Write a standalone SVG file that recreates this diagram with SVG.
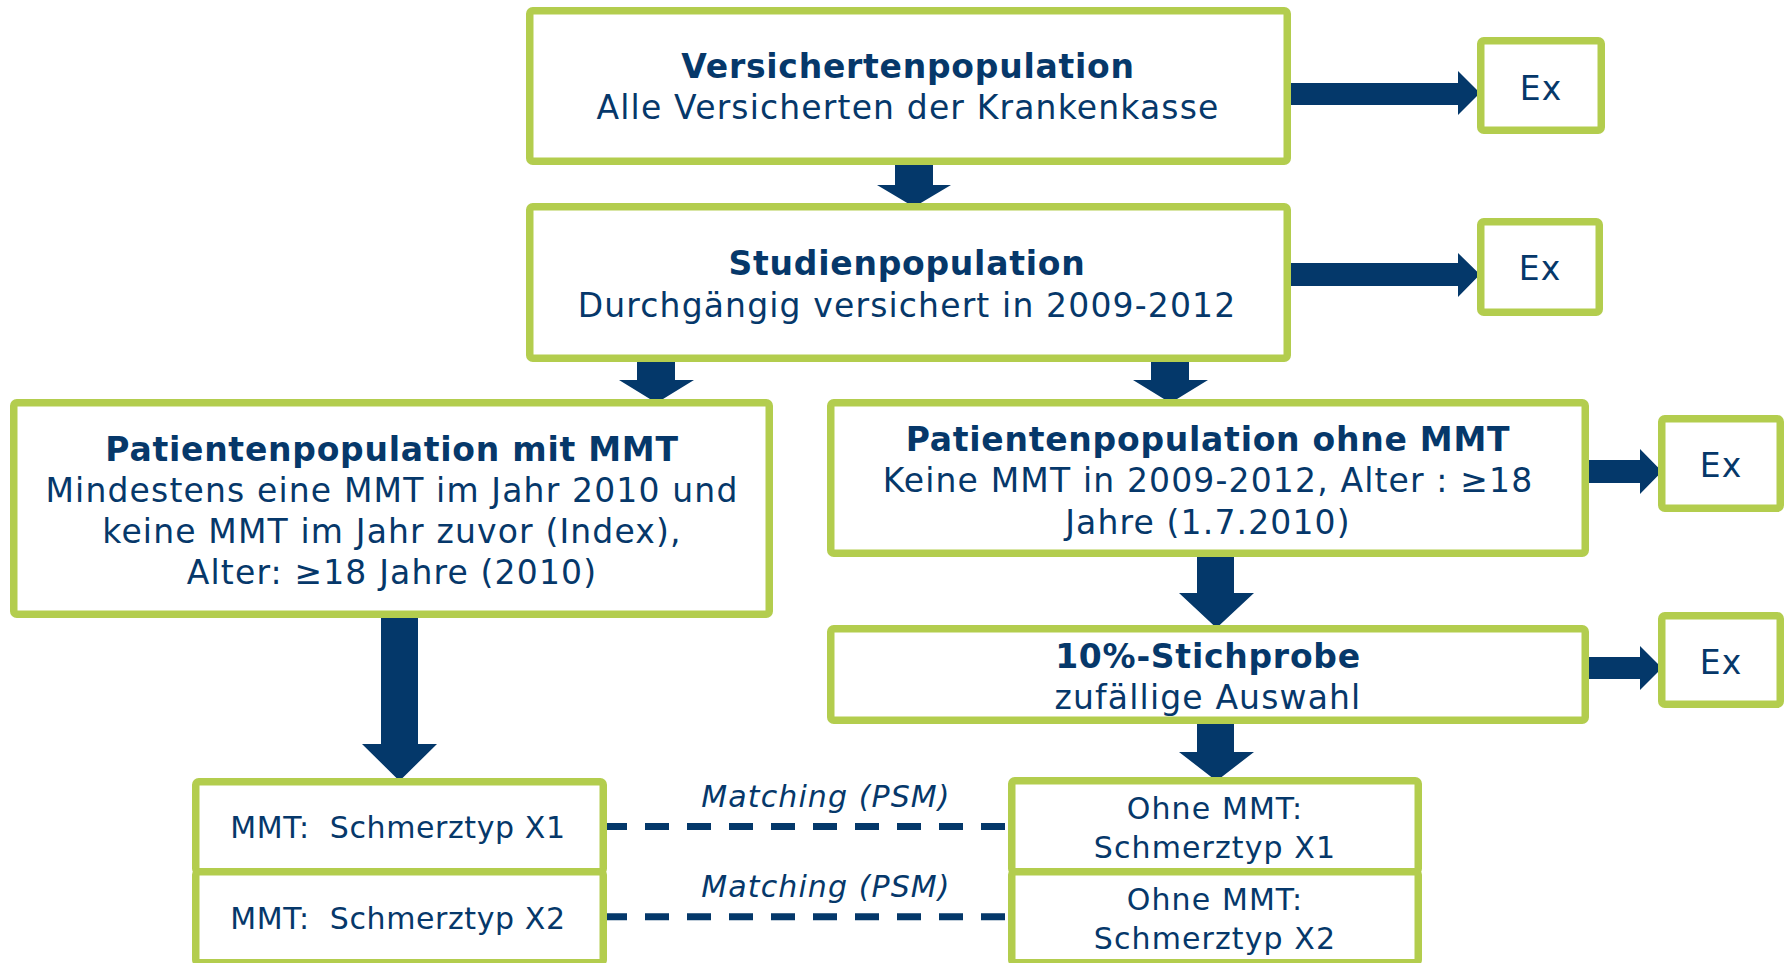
<svg xmlns="http://www.w3.org/2000/svg" width="1785" height="963" viewBox="0 0 1785 963">
<style>
.box{fill:#ffffff;stroke:#b3cd4e;stroke-width:7.5}
.t{font-family:"DejaVu Sans",Verdana,sans-serif;fill:#06386a;text-anchor:middle}
.big{font-size:33px;letter-spacing:1.15px}
.b{font-weight:bold;letter-spacing:0.75px}
.sm{font-size:30px;letter-spacing:1.1px}
.pre{white-space:pre;letter-spacing:0.6px}
.it{font-style:italic}
.arr{fill:#04386a}
.dash{stroke:#04386a;stroke-width:7;stroke-dasharray:24 18;fill:none}
</style>
<rect width="1785" height="963" fill="#ffffff"/>
<g id="connectors">
<polygon class="arr" points="1283,83 1458,83 1458,71 1480,93 1458,115 1458,105 1283,105"/>
<polygon class="arr" points="1283,263 1458,263 1458,253 1480,274.5 1458,297 1458,286 1283,286"/>
<polygon class="arr" points="1586,460 1640,460 1640,449 1662,471.5 1640,494 1640,483 1586,483"/>
<polygon class="arr" points="1586,657 1640,657 1640,646 1662,668 1640,690 1640,679 1586,679"/>
<polygon class="arr" points="895,162 933,162 933,185 951,185 914,207 877,185 895,185"/>
<polygon class="arr" points="637,358 675,358 675,380 694,380 656.5,403 619,380 637,380"/>
<polygon class="arr" points="1151,358 1189,358 1189,380 1208,380 1170.5,403 1133,380 1151,380"/>
<polygon class="arr" points="381,615 418,615 418,744 437,744 399.5,781 362,744 381,744"/>
<polygon class="arr" points="1197,555 1234,555 1234,593 1254,593 1216.5,628 1179,593 1197,593"/>
<polygon class="arr" points="1197,721 1234,721 1234,752 1254,752 1216.5,781 1179,752 1197,752"/>
<line class="dash" x1="607" y1="826.5" x2="1008" y2="826.5" stroke-dashoffset="4"/>
<line class="dash" x1="607" y1="916.7" x2="1008" y2="916.7" stroke-dashoffset="4"/>
<text class="t sm it" x="826" y="807">Matching (PSM)</text>
<text class="t sm it" x="826" y="897">Matching (PSM)</text>
</g>
<g id="box1">
<rect class="box" x="529.75" y="10.75" width="757.5" height="150.5" rx="3"/>
<text class="t big b" x="908" y="78">Versichertenpopulation</text>
<text class="t big" x="908" y="119">Alle Versicherten der Krankenkasse</text>
</g>
<g id="ex1">
<rect class="box" x="1480.75" y="40.75" width="120.5" height="89.5" rx="3"/>
<text class="t big" x="1541" y="100">Ex</text>
</g>
<g id="box2">
<rect class="box" x="529.75" y="206.75" width="757.5" height="151.5" rx="3"/>
<text class="t big b" x="907" y="275">Studienpopulation</text>
<text class="t big" x="907" y="317">Durchgängig versichert in 2009-2012</text>
</g>
<g id="ex2">
<rect class="box" x="1480.75" y="221.75" width="118.5" height="90.5" rx="3"/>
<text class="t big" x="1540" y="280">Ex</text>
</g>
<g id="box3">
<rect class="box" x="13.75" y="402.75" width="755.5" height="211.5" rx="3"/>
<text class="t big b" x="392" y="461">Patientenpopulation mit MMT</text>
<text class="t big" x="392" y="502">Mindestens eine MMT im Jahr 2010 und</text>
<text class="t big" x="392" y="543">keine MMT im Jahr zuvor (Index),</text>
<text class="t big" x="392" y="584">Alter: ≥18 Jahre (2010)</text>
</g>
<g id="box4">
<rect class="box" x="830.75" y="402.75" width="754.5" height="150.5" rx="3"/>
<text class="t big b" x="1208" y="451">Patientenpopulation ohne MMT</text>
<text class="t big" x="1208" y="492">Keine MMT in 2009-2012, Alter : ≥18</text>
<text class="t big" x="1208" y="534">Jahre (1.7.2010)</text>
</g>
<g id="ex3">
<rect class="box" x="1661.75" y="418.75" width="118.5" height="89.5" rx="3"/>
<text class="t big" x="1721" y="477">Ex</text>
</g>
<g id="box5">
<rect class="box" x="830.75" y="628.75" width="754.5" height="91.5" rx="3"/>
<text class="t big b" x="1208" y="668">10%-Stichprobe</text>
<text class="t big" x="1208" y="709">zufällige Auswahl</text>
</g>
<g id="ex4">
<rect class="box" x="1661.75" y="615.75" width="118.5" height="88.5" rx="3"/>
<text class="t big" x="1721" y="674">Ex</text>
</g>
<g id="box7">
<rect class="box" x="195.75" y="781.75" width="407.5" height="90" rx="3"/>
<rect class="box" x="195.75" y="871.75" width="407.5" height="91" rx="3"/>
<text class="t sm pre" x="398" y="838">MMT:  Schmerztyp X1</text>
<text class="t sm pre" x="398" y="929">MMT:  Schmerztyp X2</text>
</g>
<g id="box6">
<rect class="box" x="1011.75" y="780.75" width="406.5" height="91" rx="3"/>
<rect class="box" x="1011.75" y="871.75" width="406.5" height="91" rx="3"/>
<text class="t sm" x="1215" y="819">Ohne MMT:</text>
<text class="t sm" x="1215" y="858">Schmerztyp X1</text>
<text class="t sm" x="1215" y="910">Ohne MMT:</text>
<text class="t sm" x="1215" y="949">Schmerztyp X2</text>
</g>
</svg>
